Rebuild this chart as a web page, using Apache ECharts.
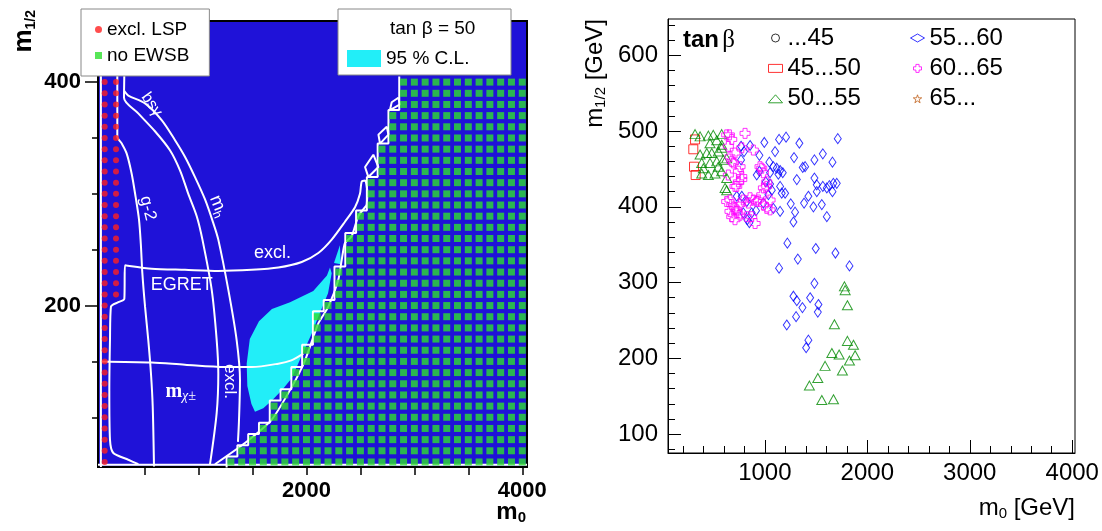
<!DOCTYPE html>
<html><head><meta charset="utf-8">
<script src="https://cdn.jsdelivr.net/npm/echarts@6/dist/echarts.min.js"></script>
<style>html,body{margin:0;padding:0;background:#fff}#c{width:1102px;height:531px}</style>
</head><body><div id="c"></div>
<script>
// ================= LEFT PANEL DATA (m0, m1/2) =================
const leftXTicks = [500,1000,1500,2000,2500,3000,3500,4000];
const leftXLabels = [2000,4000];
const leftYMinorTicks = [100,150,250,300,350];
const leftYLabels = [200,400];

// red dots: excluded LSP (two columns of scan points)
const lspCol1 = 130, lspCol2 = 235;
const lspRows1 = [60,70,80,90,100,110,120,130,140,150,160,170,180,190,200,210,220,230,240,250,260,270,280,290,300,310,320,330,340,350,360,370,380,390,400,410,420,430,440,450];
const lspRows2 = [210,220,230,240,250,260,270,280,290,300,310,320,330,340,350,360,370,380,390,400,410,420,430,440,450];

// green squares: no EWSB scan points; each row starts at greenStart and runs to 4000 in 100 GeV steps
const greenRows  = [60,70,80,90,100,110,120,130,140,150,160,170,180,190,200,210,220,230,240,250,260,270,280,290,300,310,320,330,340,350,360,370,380,390,400];
const greenStart = [1300,1400,1500,1600,1700,1700,1800,1900,1900,2000,2000,2100,2100,2100,2200,2300,2300,2300,2400,2400,2400,2500,2500,2600,2600,2600,2700,2700,2700,2800,2800,2800,2900,2900,2900];
const greenEnd = 4000, greenStep = 100;

// cyan 95% C.L. regions
const cyanMain = [[2218,234],[2190,227],[2063,213],[1848,203],[1680,197],[1560,186],[1475,170],[1446,148],[1452,128],[1490,112],[1523,105],[1600,108],[1680,115],[1780,125],[1863,135],[1956,155],[2049,175],[2110,190],[2200,211],[2234,229]];
const cyanTri  = [[2310,254],[2255,238],[2318,237]];

// white contour lines
const g2Line   = [[247,455],[247,351],[288,345],[334,336],[380,318],[417,297],[448,277],[465,255],[479,229],[504,199],[534,169],[559,139],[575,110],[587,56]];
const exclLine = [[442,58],[349,62],[210,68],[179,80],[173,124],[179,169],[188,199],[256,203],[312,206],[318,236],[566,233],[874,232],[1183,231],[1492,232],[1739,234],[1956,239],[2110,247],[2234,259],[2357,275],[2450,288],[2496,300],[2512,311],[2543,312],[2565,300],[2558,290]];
const mhLine   = [[312,455],[312,411],[309,386],[441,372],[596,356],[735,339],[828,321],[905,300],[983,280],[1036,259],[1122,214],[1168,169],[1183,139],[1168,104],[1106,58]];
const bsgLine  = [[312,392],[349,388],[504,381],[658,366],[782,348],[875,333],[967,315],[1060,295],[1136,274],[1183,259],[1276,214],[1353,169],[1384,133],[1375,98],[1365,78]];
const mchiLine = [[95,150],[566,149],[874,147],[1245,145],[1492,145],[1739,148],[1860,151],[1971,157]];
const outerLine= [[1152,58],[1430,77],[1678,98],[1863,127],[1987,151],[2110,184],[2203,199],[2295,223],[2327,241],[2357,256],[2419,262],[2481,280],[2560,290]];
const loop1 = [[2774,375],[2790,382],[2851,386],[2867,380],[2774,375]];
const loop2 = [[2682,345],[2667,353],[2744,360],[2760,353],[2682,345]];
const loop3 = [[2574,315],[2543,324],[2620,335],[2667,324],[2574,315]];
const leftEdge = [[95,55.5],[95,454.7]];
const bottomEdge = [[68,57.5],[4044,57.5]];

// annotations (data coordinates)
const leftNotes = [
  {t:'bsγ', x:565, y:380, r:-55, fs:16},
  {t:'g-2', x:529, y:287, r:-76, fs:17},
  {t:'{m|m}{s|h}', x:1183, y:289, r:-68, fs:18},
  {t:'excl.', x:1685, y:247, r:0, fs:18},
  {t:'EGRET', x:844, y:218, r:0, fs:18},
  {t:'excl.', x:1287, y:132, r:-90, fs:17},
  {t:'{ms|m}{cs|χ±}', x:834, y:123, r:0, fs:18}
];

// ================= RIGHT PANEL DATA (m0, m1/2) =================
const rightXMajor = [1000,2000,3000,4000];
const rightXMinor = [200,400,600,800,1200,1400,1600,1800,2200,2400,2600,2800,3200,3400,3600,3800];
const rightYMajor = [100,200,300,400,500,600];
const rightYMinor = [80,120,140,160,180,220,240,260,280,320,340,360,380,420,440,460,480,520,540,560,580,620,640];

const tb45   = [];
const tb4550 = [[319,489],[302,476],[309,453],[325,442]];
const tb5055 = [[368,493],[449,494],[497,495],[579,496],[531,488],[465,484],[579,482],[368,469],[433,471],[482,471],[546,473],[579,478],[628,464],[384,458],[465,458],[531,460],[595,462],[384,444],[449,442],[514,444],[579,447],[628,438],[612,425],[628,422],[319,496],[400,451],[546,453],
  [1777,295],[1784,290],[1806,270],[1679,245],[1806,223],[1865,218],[1881,204],[1654,207],[1725,205],[1826,197],[1588,190],[1757,184],[1517,174],[1435,164],[1556,145],[1670,146]];
const tb5560 = [[768,480],[797,473],[856,481],[947,468],[995,485],[1100,473],[1139,489],[1207,492],[1337,484],[1285,465],[1484,462],[1566,470],[1660,459],[1712,490],[768,462],[921,442],[947,447],[1044,459],[1083,453],[1116,451],[1149,448],[1051,445],[1132,443],[1175,445],[1009,433],[1051,430],[1149,427],[1312,436],[1370,452],[1393,453],[1484,438],[1507,429],[1566,427],[1605,425],[1630,428],[1669,431],[1702,431],[1660,420],[1556,403],[1605,387],[1474,400],[1383,405],[1295,393],[1253,404],[1165,418],[1198,418],[1068,422],[1035,416],[986,405],[914,395],[1083,398],[1149,394],[1279,380],[726,414],[775,414],[824,407],[872,392],[849,379],[1425,414],[1507,420],[790,392],[829,383],
  [1220,352],[1497,345],[1322,331],[1689,339],[1139,319],[1826,322],[1484,299],[1279,282],[1312,276],[1442,280],[1367,267],[1523,271],[1517,261],[1305,255],[1214,244],[1425,224],[1403,214]];
const tb6065 = [[628,495],[677,489],[807,497],[644,480],[709,471],[660,466],[677,460],[775,478],[758,453],[742,447],[775,440],[742,433],[644,442],[726,427],[628,407],[677,403],[709,398],[660,394],[726,392],[677,387],[758,403],[790,409],[839,405],[856,412],[888,409],[872,387],[905,378],[953,453],[986,445],[937,409],[986,403],[1019,398],[970,416],[1051,409],[888,475],[693,458],[775,436],[709,427],[970,451],[1019,433],[986,425],[660,409],[726,396],[758,389],[709,383],[921,407],[1051,396],[824,387],[654,495],[1019,427]];
const tb65   = [];

// ================= BUILD =================
const SANS = '"Liberation Sans", Arial, Helvetica, sans-serif';
const SERIF = '"Liberation Serif", "Times New Roman", serif';
const BLUE_BG = '#1f12d8', CYAN = '#22eef8', GREEN_SQ = '#2ee02e', RED_DOT = '#ff2020';
const crossPath = 'path://M3,0 L7,0 L7,3 L10,3 L10,7 L7,7 L7,10 L3,10 L3,7 L0,7 L0,3 L3,3 Z';
const starPath = 'path://M5,0 L6.2,3.6 L10,3.6 L6.9,5.9 L8.1,9.5 L5,7.3 L1.9,9.5 L3.1,5.9 L0,3.6 L3.8,3.6 Z';

const lspPts = lspRows1.map(r => [lspCol1, r]).concat(lspRows2.map(r => [lspCol2, r]));
const noEwsb = [];
greenRows.forEach((r, i) => { for (let x = greenStart[i]; x <= greenEnd; x += greenStep) noEwsb.push([x, r]); });
const stair = [];
greenRows.forEach((r, i) => { stair.push([greenStart[i] - 40, r - 5], [greenStart[i] - 40, r + 5]); });
const cyanPolys = [cyanMain, cyanTri];

function wline(name, data, smooth) {
  return {type:'line', name, data, xAxisIndex:0, yAxisIndex:0, showSymbol:false, symbol:'none',
    smooth: smooth || false, silent:true, z:3, lineStyle:{color:'#fff', width:2}};
}
function sc(name, data, symbol, size, color) {
  return {type:'scatter', name, data, xAxisIndex:1, yAxisIndex:2, symbol, symbolSize:size, silent:true, z:3,
    itemStyle:{color:'rgba(0,0,0,0)', borderColor:color, borderWidth:1}};
}
function legItem(name, icon, color) {
  return {name, icon, itemStyle:{color:'rgba(0,0,0,0)', borderColor:color, borderWidth:1}};
}
const hiddenLabel = {show:false};
const tickFmt = v => String(v);

const option = {
  animation:false,
  textStyle:{fontFamily:SANS},
  grid:[
    {left:98, top:21, width:429, height:446, show:true, backgroundColor:BLUE_BG, borderColor:'#000', borderWidth:2, z:0},
    {left:668, top:19, width:407, height:434, show:true, backgroundColor:'#fff', borderColor:'#000', borderWidth:1}
  ],
  xAxis:[
    {gridIndex:0, type:'value', min:68, max:4044, position:'bottom', splitLine:{show:false},
     axisLine:{show:false}, axisTick:{show:true, inside:false, length:8, customValues:leftXTicks, lineStyle:{color:'#000', width:1.5}},
     axisLabel:{show:true, customValues:leftXLabels, formatter:tickFmt, margin:13, color:'#000', fontFamily:SANS, fontWeight:'bold', fontSize:22}},
    {gridIndex:1, type:'value', min:55, max:4027, position:'bottom', splitLine:{show:false},
     axisLine:{show:true, lineStyle:{color:'#000', width:1}}, axisTick:{show:true, inside:true, length:13, customValues:rightXMajor, lineStyle:{color:'#000'}},
     axisLabel:{show:true, customValues:rightXMajor, formatter:tickFmt, margin:8, color:'#000', fontFamily:SANS, fontSize:24}},
    {gridIndex:1, type:'value', min:55, max:4027, position:'bottom', splitLine:{show:false},
     axisLine:{show:false}, axisTick:{show:true, inside:true, length:7, customValues:rightXMinor, lineStyle:{color:'#000'}},
     axisLabel:hiddenLabel}
  ],
  yAxis:[
    {gridIndex:0, type:'value', min:55.5, max:454.7, position:'left', splitLine:{show:false},
     axisLine:{show:false}, axisTick:{show:true, inside:false, length:6, customValues:leftYMinorTicks, lineStyle:{color:'#000', width:1.5}},
     axisLabel:{show:true, customValues:leftYLabels, formatter:tickFmt, margin:17, color:'#000', fontFamily:SANS, fontWeight:'bold', fontSize:22}},
    {gridIndex:0, type:'value', min:55.5, max:454.7, position:'left', splitLine:{show:false},
     axisLine:{show:false}, axisTick:{show:true, inside:false, length:13, customValues:leftYLabels, lineStyle:{color:'#000', width:1.5}},
     axisLabel:hiddenLabel},
    {gridIndex:1, type:'value', min:75, max:648, position:'left', splitLine:{show:false},
     axisLine:{show:true, lineStyle:{color:'#000', width:1}}, axisTick:{show:true, inside:true, length:13, customValues:rightYMajor, lineStyle:{color:'#000'}},
     axisLabel:{show:true, customValues:rightYMajor, formatter:tickFmt, margin:10, color:'#000', fontFamily:SANS, fontSize:24}},
    {gridIndex:1, type:'value', min:75, max:648, position:'left', splitLine:{show:false},
     axisLine:{show:false}, axisTick:{show:true, inside:true, length:7, customValues:rightYMinor, lineStyle:{color:'#000'}},
     axisLabel:hiddenLabel}
  ],
  legend:[
    {data:[{name:'excl. LSP', icon:'circle'}, {name:'no EWSB', icon:'rect'}], orient:'vertical', left:81, top:9,
     padding:[11,20,11,14], itemGap:7, itemWidth:7, itemHeight:7, selectedMode:false, z:60,
     backgroundColor:'#fff', borderColor:'#888', borderWidth:1,
     textStyle:{fontSize:19, lineHeight:19, fontFamily:SANS, color:'#000'}},
    {data:[{name:'95 % C.L.', icon:'rect', itemStyle:{color:CYAN}}], orient:'vertical', left:347, top:49,
     padding:0, itemWidth:34, itemHeight:17, selectedMode:false, z:60,
     textStyle:{fontSize:19, lineHeight:19, fontFamily:SANS, color:'#000'}},
    {data:[legItem('...45','circle','#000'), legItem('45...50','rect','#ff0000'), legItem('50...55','triangle','#008a00')],
     orient:'vertical', left:768, top:26, padding:0, itemGap:6.4, itemWidth:14, itemHeight:8, selectedMode:false, z:60,
     textStyle:{fontSize:24, lineHeight:24, fontFamily:SANS, color:'#000'}},
    {data:[legItem('55...60','diamond','#0000ff'), legItem('60...65',crossPath,'#ff00ff'), legItem('65...',starPath,'#c0601a')],
     orient:'vertical', left:910, top:26, padding:0, itemGap:6.4, itemWidth:14, itemHeight:8, selectedMode:false, z:60,
     textStyle:{fontSize:24, lineHeight:24, fontFamily:SANS, color:'#000'}}
  ],
  graphic:[
    {type:'rect', shape:{x:338, y:9, width:173, height:66}, style:{fill:'#fff', stroke:'#888', lineWidth:1}, z:50},
    {type:'text', x:390, y:29, z:51, style:{text:'tan β = 50', fontSize:19, fontFamily:SANS, fill:'#000', verticalAlign:'middle', align:'left'}},
    {type:'text', x:24, y:10, rotation:Math.PI/2, z:51, style:{text:'{m|m}{s|1/2}', align:'right', verticalAlign:'middle', fill:'#000',
      rich:{m:{fontSize:26, fontWeight:'bold', fontFamily:SANS, fill:'#000'}, s:{fontSize:14, fontWeight:'bold', fontFamily:SANS, fill:'#000', padding:[14,0,0,0]}}}},
    {type:'text', x:526, y:512, z:51, style:{text:'{m|m}{s|0}', align:'right', verticalAlign:'middle', fill:'#000',
      rich:{m:{fontSize:24, fontWeight:'bold', fontFamily:SANS, fill:'#000'}, s:{fontSize:15, fontWeight:'bold', fontFamily:SANS, fill:'#000', padding:[12,0,0,0]}}}},
    {type:'text', x:683, y:40, z:51, style:{text:'{b|tan} {g|β}', align:'left', verticalAlign:'middle', fill:'#000',
      rich:{b:{fontSize:24, fontWeight:'bold', fontFamily:SANS, fill:'#000'}, g:{fontSize:25, fontFamily:SERIF, fill:'#000'}}}},
    {type:'text', x:595, y:19, rotation:Math.PI/2, z:51, style:{text:'{t|m}{s|1/2}{t| [GeV]}', align:'right', verticalAlign:'middle', fill:'#000',
      rich:{t:{fontSize:24, fontFamily:SANS, fill:'#000'}, s:{fontSize:15, fontFamily:SANS, fill:'#000', padding:[12,0,0,0]}}}},
    {type:'text', x:1075, y:508, z:51, style:{text:'{t|m}{s|0}{t| [GeV]}', align:'right', verticalAlign:'middle', fill:'#000',
      rich:{t:{fontSize:24, fontFamily:SANS, fill:'#000'}, s:{fontSize:15, fontFamily:SANS, fill:'#000', padding:[12,0,0,0]}}}}
  ],
  series:[
    {type:'custom', name:'95 % C.L.', xAxisIndex:0, yAxisIndex:0, z:2, silent:true, itemStyle:{color:CYAN},
     data:cyanPolys.map((p, i) => [i]),
     renderItem:(params, api) => ({type:'polygon', shape:{points:cyanPolys[params.dataIndex].map(p => api.coord(p))}, style:{fill:CYAN}})},
    wline('left edge', leftEdge),
    wline('bottom edge', bottomEdge),
    wline('g-2', g2Line, 0.3),
    wline('excl', exclLine, 0.25),
    wline('m_h', mhLine, 0.3),
    wline('bsg', bsgLine, 0.3),
    wline('mchi', mchiLine, 0.3),
    wline('boundary', outerLine, 0.2),
    wline('stair', stair),
    wline('loop1', loop1), wline('loop2', loop2), wline('loop3', loop3),
    {type:'scatter', name:'no EWSB', data:noEwsb, xAxisIndex:0, yAxisIndex:0, symbol:'rect', symbolSize:7, silent:true, z:4,
     itemStyle:{color:GREEN_SQ}},
    {type:'scatter', name:'excl. LSP', data:lspPts, xAxisIndex:0, yAxisIndex:0, symbol:'circle', symbolSize:6, silent:true, z:5,
     itemStyle:{color:RED_DOT}},
    {type:'custom', name:'notes', xAxisIndex:0, yAxisIndex:0, z:6, silent:true,
     data:leftNotes.map(n => [n.x, n.y]),
     renderItem:(params, api) => {
       const n = leftNotes[params.dataIndex];
       const p = api.coord([n.x, n.y]);
       return {type:'text', x:p[0], y:p[1], rotation:n.r*Math.PI/180,
         style:{text:n.t, fill:'#fff', fontSize:n.fs, fontFamily:SANS, align:'center', verticalAlign:'middle',
           rich:{m:{fontSize:n.fs, fontFamily:SANS, fill:'#fff'}, s:{fontSize:12, fontFamily:SANS, fill:'#fff', padding:[9,0,0,0]},
                 ms:{fontSize:20, fontWeight:'bold', fontFamily:SERIF, fill:'#fff'}, cs:{fontSize:14, fontStyle:'italic', fontFamily:SERIF, fill:'#fff', padding:[10,0,0,0]}}}};
     }},
    sc('...45', tb45, 'circle', 8, '#000'),
    sc('45...50', tb4550, 'rect', 9, '#ff0000'),
    sc('50...55', tb5055, 'triangle', [10,9], '#008a00'),
    sc('55...60', tb5560, 'diamond', [7,10], '#0000ff'),
    sc('60...65', tb6065, crossPath, 10, '#ff00ff'),
    sc('65...', tb65, starPath, 10, '#c0601a')
  ]
};
const chart = echarts.init(document.getElementById('c'));
chart.setOption(option);
</script>
</body></html>
